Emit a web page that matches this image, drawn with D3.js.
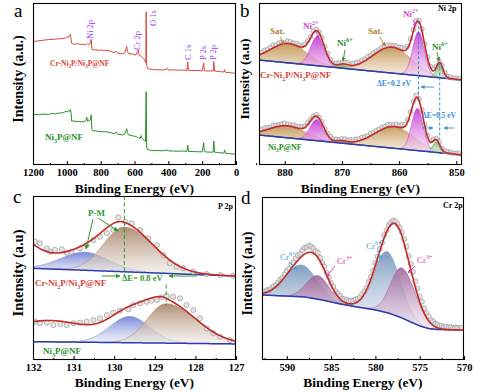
<!DOCTYPE html>
<html><head><meta charset="utf-8">
<script src="https://cdn.jsdelivr.net/npm/d3@7"></script>
<style>body{margin:0;background:#fff}svg{display:block}</style>
</head><body><svg id="chart" width="494" height="392"></svg>
<script>
// ================= DATA =================
// (a) survey spectra  [binding energy eV, intensity a.u.]
const surveyTicks = [1200,1000,800,600,400,200,0];
const surveyMinor = [1100,900,700,500,300,100];
const surveyRed = [[1200,76.2],[1170,76.6],[1140,77.0],[1110,77.4],[1080,77.6],[1050,77.9],[1030,78.0],[1010,78.4],[998,79.2],[990,78.8],[984,80.0],[979,80.6],[976,78.6],[972,75.2],[965,74.8],[950,74.6],[935,74.9],[920,74.4],[905,74.6],[890,74.2],[880,75.0],[874,74.3],[866,74.6],[860,75.8],[856,77.6],[852,71.5],[845,71.0],[830,71.2],[815,70.8],[800,71.0],[785,70.6],[770,70.8],[755,70.5],[740,70.3],[728,69.5],[715,69.6],[708,70.2],[700,69.0],[685,68.8],[670,68.6],[658,69.2],[650,71.5],[646,73.2],[642,70.2],[635,68.8],[620,68.6],[605,68.4],[592,67.8],[582,70.0],[577,71.0],[573,68.0],[566,67.6],[560,66.9],[552,66.3],[545,65.6],[538,64.2],[533,63.0],[531,94.6],[528,61.5],[524,59.8],[510,59.2],[490,58.9],[460,58.8],[430,58.7],[402,59.4],[398,58.6],[370,58.7],[340,58.5],[310,58.6],[290,58.4],[285,63.6],[281,58.5],[260,58.3],[230,58.4],[200,58.1],[191,63.0],[187,58.2],[170,58.0],[150,58.1],[135,58.0],[131,63.8],[127,58.0],[110,57.8],[90,57.6],[72,57.4],[67,58.8],[62,57.2],[45,57.1],[30,56.9],[15,56.7],[0,56.5]];
const surveyGreen = [[1200,31.3],[1170,31.0],[1140,31.4],[1110,31.2],[1090,31.8],[1070,31.5],[1050,32.0],[1030,32.2],[1015,32.6],[1005,33.2],[998,32.6],[990,33.6],[984,33.0],[979,34.2],[975,32.0],[971,27.0],[960,27.2],[945,26.8],[930,27.0],[915,26.6],[900,26.8],[888,27.4],[882,29.5],[878,27.0],[872,27.8],[866,27.2],[860,28.4],[856,31.0],[852,21.8],[845,21.0],[830,21.2],[815,20.6],[800,20.8],[785,20.4],[770,20.6],[755,20.2],[740,20.0],[728,19.4],[715,19.6],[708,20.4],[700,19.0],[685,18.8],[670,18.5],[658,19.2],[650,21.0],[646,22.4],[642,20.0],[635,18.6],[620,18.2],[605,17.9],[592,17.5],[582,17.0],[575,16.8],[566,16.4],[561,18.2],[557,16.8],[550,15.8],[542,15.2],[535,14.5],[531,45.2],[528,11.0],[524,9.6],[510,9.2],[490,9.0],[460,8.9],[430,8.8],[402,9.2],[398,8.7],[370,8.6],[340,8.5],[310,8.6],[290,8.4],[285,12.3],[281,8.4],[260,8.3],[230,8.2],[200,8.1],[191,13.8],[187,8.2],[170,8.0],[150,7.9],[135,8.0],[131,14.8],[127,7.9],[110,7.7],[90,7.5],[72,7.4],[67,9.3],[62,7.2],[45,7.1],[30,6.9],[15,6.8],[0,6.6]];
const surveyPeakNames = ["Ni 2p","Cr 2p","O 1s","C 1s","P 2s","P 2p"];

// (b) Ni 2p
const niRange = [884.5, 849];
const niTicks = [880,870,860,850];
const niMinor = [885,875,865,855];
const niLabels = ["Sat.","Ni^{2+}","Ni^{δ+}","Sat.","Ni^{2+}","Ni^{δ+}"];
const niKinds  = ["sat","ni2","nid","sat","ni2","nid"];
const niCentersCr = [879.3, 874.3, 869.8, 861.2, 856.6, 852.9];
const niHeightsCr = [12.0, 18.0, 1.9, 16.0, 27.2, 8.6];
const niFwhmCr    = [7.5, 2.8, 2.0, 8.0, 2.4, 1.3];
const niBgCr      = [[884.5,64.8],[849,52.5]];
const niResCr = [1.0,1.4,0.8,1.2,1.6,0.9,1.3,1.1,0.7,1.5,1.2,0.9,1.4,1.0,0.6,1.1,1.3,0.8,1.2,0.9,0.5,1.0,0.7,1.2,0.8,0.4,0.9,1.1,0.6,1.0,1.3,0.8,1.2,1.5,0.9,1.3,1.1,1.6,1.0,1.4,1.2,0.8,1.3,1.0,1.5,1.2,0.9,1.4,1.1,1.7,1.3,1.0,1.5,0.8,1.2,0.9,1.3,0.7,1.0,0.8,1.1,0.6,0.9,0.5,0.8,0.6,0.9,0.5,0.7,0.6];
const niCentersBare = [879.5, 874.4, 870.0, 860.8, 856.8, 853.5];
const niHeightsBare = [7.4, 13.0, 1.2, 13.4, 26.0, 6.5];
const niFwhmBare    = [7.5, 2.8, 2.0, 8.0, 2.4, 1.4];
const niBgBare      = [[884.5,18.5],[849,6.2]];
const niResBare = [0.9,1.3,1.0,0.7,1.4,1.1,0.8,1.2,1.5,1.0,0.7,1.2,0.9,1.3,1.0,0.6,1.1,0.8,0.5,0.9,0.6,1.0,0.4,0.8,1.1,0.7,0.9,0.5,1.0,1.2,0.8,1.3,1.0,1.4,1.1,1.6,1.2,0.9,1.5,1.1,1.4,1.0,1.3,0.9,1.6,1.2,1.0,1.5,1.3,1.8,1.1,1.4,0.9,1.2,1.5,1.0,1.3,0.8,1.1,0.7,1.0,0.6,0.9,0.7,0.5,0.8,0.6,0.4,0.7,0.5];
const niRawStart = 884, niRawStep = 0.5;

// (c) P 2p
const pRange = [132, 127];
const pTicks = [132,131,130,129,128,127];
const pMinor = [131.5,130.5,129.5,128.5,127.5];
const pKinds = [null, "pblue", "pbrown"];
const pCentersCr = [133.0, 130.72, 129.75];
const pHeightsCr = [30.0, 11.0, 27.3];
const pFwhmHiCr  = [1.88, 1.4, 1.2];
const pFwhmLoCr  = [1.88, 1.4, 1.7];
const pBgCr      = [[132,55.9],[127,51.2]];
const pRawCr = [[131.95,72.1],[131.83,71.1],[131.66,68.1],[131.58,66.0],[131.46,67.1],[131.29,67.5],[131.17,65.4],[131.05,66.0],[130.84,68.1],[130.68,70.1],[130.51,73.2],[130.35,75.2],[130.18,77.3],[130.02,79.3],[129.9,87.0],[129.73,84.3],[129.57,83.4],[129.36,79.3],[129.16,74.2],[128.95,70.1],[128.79,64.0],[128.63,59.0],[128.46,56.9],[128.3,55.9],[128.05,53.8],[127.72,52.4],[127.39,51.8],[127.07,51.4]];
const pCentersBare = [131.6, 129.62, 128.72];
const pHeightsBare = [13.0, 16.0, 24.0];
const pFwhmHiBare  = [2.6, 1.15, 1.1];
const pFwhmLoBare  = [2.6, 1.15, 1.75];
const pBgBare      = [[132,11.2],[127,9.8]];
const pRawBare = [[131.95,23.4],[131.83,22.4],[131.66,22.8],[131.5,21.3],[131.33,22.0],[131.17,21.3],[131.0,22.4],[130.84,22.8],[130.68,23.4],[130.51,24.4],[130.35,25.4],[130.18,27.4],[130.02,28.8],[129.86,30.1],[129.65,30.9],[129.53,33.5],[129.36,34.6],[129.2,35.5],[129.08,36.2],[128.95,36.6],[128.83,38.2],[128.71,39.0],[128.55,38.6],[128.38,37.6],[128.22,33.5],[128.05,30.5],[127.89,25.4],[127.72,19.3],[127.56,16.3],[127.39,14.2],[127.15,12.2]];

// (d) Cr 2p
const crRange = [592.8, 570];
const crTicks = [590,585,580,575,570];
const crMinor = [592.5,587.5,582.5,577.5,572.5];
const crLabels = ["Cr^{6+}","Cr^{3+}","Cr^{6+}","Cr^{3+}"];
const crKinds = ["cr6","cr3","cr6","cr3"];
const crCenters = [588.4, 586.5, 578.7, 577.0];
const crHeights = [19.5, 14.5, 37.4, 30.7];
const crFwhmHi  = [4.2, 3.0, 3.5, 3.0];
const crFwhmLo  = [4.2, 3.0, 3.5, 3.6];
const crBg = [[592.8,39.9],[588,38.7],[586,36.8],[584,34.4],[582,32.5],[580,30.7],[578.5,28.8],[577,25.8],[576,23.3],[575,20.9],[574,19.3],[573,18.7],[570,18.4]];
const crRes = [0.8,1.2,0.6,1.0,1.4,0.9,1.3,1.7,1.2,1.8,2.2,1.6,2.5,2.0,2.8,3.2,2.6,3.5,4.0,3.4,4.2,3.6,3.0,2.4,2.9,2.0,1.6,2.2,1.4,1.8,1.2,1.6,1.0,1.5,1.9,1.3,1.7,2.1,1.6,2.0,1.5,2.2,1.8,1.4,2.0,1.6,1.2,1.8,1.3,1.0,1.4,0.9,1.2,0.8,1.5,1.1,1.6,1.2,1.8,1.4,1.0,1.6,2.2,2.8,3.4,2.9,3.6,4.2,3.5,3.9,3.2,3.8,2.9,2.4,2.8,2.0,2.4,1.8,2.1,1.6,1.9,1.4,1.7,1.2,1.6,1.1,1.5,1.3,1.0,1.4];
const crRawStart = 592.5, crRawStep = 0.25;

// ================= LAYOUT / STYLE =================
const FONT = '"Liberation Serif","Times New Roman",Times,serif';
const P = {
  a:{x0:33,x1:236,y0:3,y1:165},
  b:{x0:259,x1:462,y0:3,y1:165},
  c:{x0:33,x1:236,y0:196,y1:360},
  d:{x0:262,x1:464,y0:197,y1:360}
};
const GRAD = {
  sat:["#c49350","#f3e8d8"], ni2:["#c43ad2","#f6d8f6"], nid:["#3e9e3a","#d8efd2"],
  pblue:["#6f80d4","#e6e9f8"], pbrown:["#a88568","#eee8e2"],
  cr6:["#7896bd","#e4eaf3"], cr3:["#a0689a","#eedcec"]
};
const RED="#c42a2a", BLUE="#2b3cae";

const svg = d3.select("#chart");
const defs = svg.append("defs");
Object.entries(GRAD).forEach(([k,[c1,c2]])=>{
  const lg = defs.append("linearGradient").attr("id","g-"+k).attr("x1",0).attr("y1",0).attr("x2",0).attr("y2",1);
  lg.append("stop").attr("offset","0%").attr("stop-color",c1).attr("stop-opacity",0.92);
  lg.append("stop").attr("offset","100%").attr("stop-color",c2).attr("stop-opacity",0.55);
});
const markerFor = {};
function marker(col){
  if(markerFor[col]) return markerFor[col];
  const id = "m"+Object.keys(markerFor).length;
  defs.append("marker").attr("id",id).attr("viewBox","0 0 10 10").attr("refX",9).attr("refY",5)
    .attr("markerWidth",4.5).attr("markerHeight",4.5).attr("orient","auto")
    .append("path").attr("d","M0,0L10,5L0,10z").attr("fill",col);
  return markerFor[col]="url(#"+id+")";
}

function rich(t, str, fs){
  const re=/_(.)|\^\{([^}]*)\}|([^_^]+)/g; let m, shift=0;
  while((m=re.exec(str))){
    let txt,k;
    if(m[1]!=null){txt=m[1];k="sub";} else if(m[2]!=null){txt=m[2];k="sup";} else {txt=m[3];k="n";}
    const target = k==="sub"? fs*0.3 : k==="sup"? -fs*0.4 : 0;
    const ts=t.append("tspan").attr("dy",target-shift).text(txt);
    if(k!=="n") ts.attr("font-size",fs*0.68);
    shift=target;
  }
  return t;
}
function label(g, x, y, str, fs, col, opts={}){
  const t=g.append("text").attr("x",x).attr("y",y).attr("font-family",FONT).attr("font-size",fs)
    .attr("font-weight",opts.weight||"bold").attr("fill",col).attr("text-anchor",opts.anchor||"start");
  if(opts.rotate) t.attr("transform",`rotate(-90,${x},${y})`);
  return rich(t,str,fs);
}
function arrow(g, x1,y1,x2,y2,col,w=1){
  g.append("line").attr("x1",x1).attr("y1",y1).attr("x2",x2).attr("y2",y2)
   .attr("stroke",col).attr("stroke-width",w).attr("marker-end",marker(col));
}

function panel(key, domain, majors, minors, letter, ytitle, ytSize){
  const p=P[key];
  const x=d3.scaleLinear().domain(domain).range([p.x0,p.x1]);
  const y=d3.scaleLinear().domain([0,100]).range([p.y1,p.y0]);
  defs.append("clipPath").attr("id","clip-"+key).append("rect")
    .attr("x",p.x0).attr("y",p.y0).attr("width",p.x1-p.x0).attr("height",p.y1-p.y0);
  const g=svg.append("g").attr("clip-path",`url(#clip-${key})`);
  const top=svg.append("g");
  const ax=d3.axisBottom(x).tickValues(majors).tickSizeInner(-4).tickSizeOuter(0).tickPadding(4).tickFormat(d3.format("d"));
  const ga=top.append("g").attr("transform",`translate(0,${p.y1})`).call(ax);
  ga.select(".domain").remove();
  ga.selectAll("line").attr("stroke","#000");
  ga.selectAll("text").attr("font-family",FONT).attr("font-size",10.5).attr("font-weight","bold").attr("fill","#000");
  const am=d3.axisBottom(x).tickValues(minors).tickSizeInner(-2).tickSizeOuter(0).tickFormat("");
  const gm=top.append("g").attr("transform",`translate(0,${p.y1})`).call(am);
  gm.select(".domain").remove(); gm.selectAll("line").attr("stroke","#000");
  top.append("rect").attr("x",p.x0+0.5).attr("y",p.y0+0.5).attr("width",p.x1-p.x0-1).attr("height",p.y1-p.y0-1)
    .attr("fill","none").attr("stroke","#000").attr("stroke-width",1.1);
  top.append("text").attr("x",(p.x0+p.x1)/2).attr("y",p.y1+(key==="a"||key==="b"?28:27)).attr("text-anchor","middle")
    .attr("font-family",FONT).attr("font-size",13.5).attr("font-weight","bold").text("Binding Energy (eV)");
  const yc=(p.y0+p.y1)/2-5;
  const yx=p.x0-10;
  top.append("text").attr("transform",`translate(${yx},${yc}) rotate(-90)`).attr("text-anchor","middle")
    .attr("font-family",FONT).attr("font-size",ytSize).attr("font-weight","bold").text(ytitle);
  top.append("text").attr("x",letter[1]).attr("y",letter[2]).attr("font-family",FONT).attr("font-size",19)
    .text(letter[0]);
  return {x,y,g,top};
}

function peak(e,c,h,wHi,wLo){
  const w = e>=c? wHi : wLo; const s=w/2.3548;
  return h*Math.exp(-(e-c)*(e-c)/(2*s*s));
}
function spectrum(pn, spec){
  const {x,y,g}=pn;
  const bg=d3.scaleLinear().domain(spec.bg.map(d=>d[0])).range(spec.bg.map(d=>d[1]));
  const grid=d3.range(spec.range[0], spec.range[1]-1e-9, -spec.step);
  const comp=(i,e)=>peak(e,spec.c[i],spec.h[i],spec.wHi[i],spec.wLo[i]);
  const env=e=>bg(e)+spec.c.reduce((s,_,i)=>s+comp(i,e),0);
  spec.kinds.forEach((k,i)=>{
    if(!k) return;
    const ar=d3.area().x(e=>x(e)).y0(e=>y(bg(e))).y1(e=>y(bg(e)+comp(i,e)));
    g.append("path").attr("d",ar(grid)).attr("fill",`url(#g-${k})`);
    g.append("path").attr("d",d3.line().x(e=>x(e)).y(e=>y(bg(e)+comp(i,e)))(grid))
      .attr("fill","none").attr("stroke",GRAD[k][0]).attr("stroke-width",0.7).attr("opacity",0.8);
  });
  g.append("path").attr("d",d3.line().x(e=>x(e)).y(e=>y(bg(e)))(grid))
    .attr("fill","none").attr("stroke",BLUE).attr("stroke-width",1.5);
  const raw = spec.raw ? spec.raw : spec.res.map((r,i)=>{const e=spec.rawStart-i*spec.rawStep; return [e, env(e)+r];});
  g.selectAll(null).data(raw).enter().append("circle")
    .attr("cx",d=>x(d[0])).attr("cy",d=>y(d[1])).attr("r",spec.r)
    .attr("fill","#e2e2e2").attr("fill-opacity",0.85).attr("stroke","#8c8c8c").attr("stroke-width",0.6);
  g.append("path").attr("d",d3.line().x(e=>x(e)).y(e=>y(env(e)))(grid))
    .attr("fill","none").attr("stroke",RED).attr("stroke-width",1.6);
  return {bg, env, comp};
}

// ================= PANEL A =================
const A=panel("a",[1200,0],surveyTicks,surveyMinor,["a",14,17],"Intensity (a.u.)",14);
const line=d3.line().x(d=>A.x(d[0])).y(d=>A.y(d[1]));
A.g.append("path").attr("d",line(surveyRed)).attr("fill","none").attr("stroke","#d8463c").attr("stroke-width",1);
A.g.append("path").attr("d",line(surveyGreen)).attr("fill","none").attr("stroke","#2a8f2a").attr("stroke-width",1);
const peakLabelPos=[[93,39],[140,50],[156,26],[191,60],[206,60],[216,60]];
surveyPeakNames.forEach((n,i)=>label(A.top,peakLabelPos[i][0],peakLabelPos[i][1],n,8.5,"#9a3cf0",{rotate:true,weight:"normal"}));
label(A.top,50,66,"Cr-Ni_2P/Ni_3P@NF",7.5,"#d8463c");
label(A.top,45,140,"Ni_3P@NF",9,"#2a8f2a");

// ================= PANEL B =================
const B=panel("b",niRange,niTicks,niMinor,["b",240,17],"Intensity (a.u)",13.5);
const sB1=spectrum(B,{bg:niBgCr,range:niRange,step:0.05,c:niCentersCr,h:niHeightsCr,wHi:niFwhmCr,wLo:niFwhmCr,kinds:niKinds,res:niResCr,rawStart:niRawStart,rawStep:niRawStep,r:2.3});
const sB2=spectrum(B,{bg:niBgBare,range:niRange,step:0.05,c:niCentersBare,h:niHeightsBare,wHi:niFwhmBare,wLo:niFwhmBare,kinds:niKinds,res:niResBare,rawStart:niRawStart,rawStep:niRawStep,r:2.3});
const niCol={sat:"#b07f34",ni2:"#d23fd2",nid:"#2f8f2f"};
const niLab=[[270,34,280,37,284,45],[303,29,316,32,319,39],[337,46,345,50,343,61],[368,34,380,37,385,46],[403,17,413,20,416,27],[432,50,437,52,439,61]];
niLabels.forEach((s,i)=>{const L=niLab[i];const col=niCol[niKinds[i]];
  label(B.top,L[0],L[1],s,9,col); arrow(B.top,L[2],L[3],L[4],L[5],col,0.9);});
label(B.top,438,11,"Ni 2p",8,"#000");
label(B.top,260,78,"Cr-Ni_2P/Ni_3P@NF",9,"#d8463c");
label(B.top,268,150,"Ni_3P@NF",8,"#2a8f2a");
const dB="#3a8ed8";
const xs1=B.x(niCentersCr[4]), xs2=B.x(niCentersCr[5]);
B.top.append("line").attr("x1",xs1).attr("x2",xs1).attr("y1",B.y(sB1.env(niCentersCr[4]))).attr("y2",B.y(sB2.env(niCentersBare[4]))).attr("stroke",dB).attr("stroke-dasharray","3,2").attr("stroke-width",1);
B.top.append("line").attr("x1",xs2).attr("x2",xs2).attr("y1",B.y(sB1.env(niCentersCr[5]))).attr("y2",B.y(sB2.env(niCentersBare[5]))).attr("stroke",dB).attr("stroke-dasharray","3,2").attr("stroke-width",1);
label(B.top,377,86,"ΔE=0.2 eV",7.5,dB);
arrow(B.top,434,87,421,87,dB,0.9);
label(B.top,422,118,"ΔE=0.5 eV",7.5,dB);
arrow(B.top,422,128,433,128,dB,0.9);
arrow(B.top,454,128,444,128,dB,0.9);

// ================= PANEL C =================
const C=panel("c",pRange,pTicks,pMinor,["c",13,203],"Intensity (a.u)",14.5);
const sC1=spectrum(C,{bg:pBgCr,range:pRange,step:0.01,c:pCentersCr,h:pHeightsCr,wHi:pFwhmHiCr,wLo:pFwhmLoCr,kinds:pKinds,raw:pRawCr,r:2.6});
const sC2=spectrum(C,{bg:pBgBare,range:pRange,step:0.01,c:pCentersBare,h:pHeightsBare,wHi:pFwhmHiBare,wLo:pFwhmLoBare,kinds:pKinds,raw:pRawBare,r:2.6});
const gC="#2e9a2e";
label(C.top,88,216,"P-M",9,gC);
arrow(C.top,93,219,86,249,gC,1);
arrow(C.top,98,218,118,231,gC,1);
const xc1=C.x(pCentersCr[2]), xc2=C.x(pCentersBare[2]);
C.top.append("line").attr("x1",xc1).attr("x2",xc1).attr("y1",C.y(100)).attr("y2",C.y(51)).attr("stroke",gC).attr("stroke-dasharray","4,2.5").attr("stroke-width",1);
C.top.append("line").attr("x1",xc2).attr("x2",xc2).attr("y1",C.y(46)).attr("y2",C.y(33)).attr("stroke",gC).attr("stroke-dasharray","4,2.5").attr("stroke-width",1);
label(C.top,122,281,"ΔE= 0.8 eV",8.5,gC);
arrow(C.top,102,276,120,276,gC,1);
arrow(C.top,197,276,169,276,gC,1);
label(C.top,218,209,"P 2p",8,"#000");
label(C.top,35,286,"Cr-Ni_2P/Ni_3P@NF",9,"#d8463c");
label(C.top,43,354,"Ni_3P@NF",9,"#2a8f2a");

// ================= PANEL D =================
const D=panel("d",crRange,crTicks,crMinor,["d",241,204],"Intensity (a.u)",14);
spectrum(D,{bg:crBg,range:crRange,step:0.05,c:crCenters,h:crHeights,wHi:crFwhmHi,wLo:crFwhmLo,kinds:crKinds,res:crRes,rawStart:crRawStart,rawStep:crRawStep,r:2.5});
const crCol={cr6:"#3fa6e0",cr3:"#e2409c"};
const crLab=[[280,260,289,262,297,270],[337,264,335,266,326,277],[366,249,377,251,382,259],[417,263,415,266,408,273]];
crLabels.forEach((s,i)=>{const L=crLab[i];const col=crCol[crKinds[i]];
  label(D.top,L[0],L[1],s,9,col,{weight:"normal"}); arrow(D.top,L[2],L[3],L[4],L[5],col,0.9);});
label(D.top,443,208,"Cr 2p",8,"#000");
</script></body></html>
